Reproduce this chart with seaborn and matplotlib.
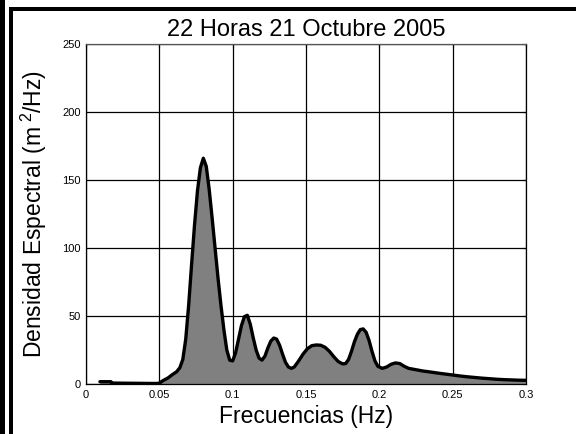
import matplotlib
matplotlib.use("Agg")
import matplotlib.pyplot as plt
from matplotlib.patches import Rectangle
import seaborn as sns
import pandas as pd

# Spectral density estimate (m^2/Hz) against frequency (Hz)
freq = [0.0095, 0.0170, 0.0175, 0.0250, 0.0350, 0.0450, 0.0480, 0.0500,
        0.0525, 0.0560, 0.0590, 0.0618, 0.0640, 0.0660, 0.0680, 0.0700,
        0.0720, 0.0740, 0.0760, 0.0780, 0.0800, 0.0820, 0.0840, 0.0860,
        0.0880, 0.0900, 0.0920, 0.0940, 0.0960, 0.0980, 0.1000, 0.1020,
        0.1040, 0.1060, 0.1080, 0.1100, 0.1120, 0.1140, 0.1160, 0.1180,
        0.1200, 0.1220, 0.1240, 0.1260, 0.1280, 0.1300, 0.1320, 0.1340,
        0.1360, 0.1380, 0.1400, 0.1420, 0.1450, 0.1480, 0.1510, 0.1540,
        0.1570, 0.1600, 0.1630, 0.1660, 0.1690, 0.1720, 0.1750, 0.1770,
        0.1790, 0.1810, 0.1830, 0.1850, 0.1870, 0.1890, 0.1910, 0.1930,
        0.1950, 0.1970, 0.1990, 0.2020, 0.2050, 0.2080, 0.2110, 0.2140,
        0.2170, 0.2200, 0.2250, 0.2300, 0.2350, 0.2400, 0.2450, 0.2500,
        0.2550, 0.2600, 0.2650, 0.2700, 0.2750, 0.2800, 0.2850, 0.2900,
        0.2950, 0.3000]
density = [1.7, 1.7, 0.7, 0.6, 0.5, 0.4, 0.4, 0.6,
           2.5, 4.5, 7.0, 9.0, 12.0, 18.0, 33.0, 58.0,
           88.0, 117.0, 142.0, 159.0, 166.0, 160.0, 143.0, 122.0,
           100.0, 78.0, 58.0, 40.0, 25.0, 17.5, 17.0, 23.0,
           33.0, 43.0, 49.5, 50.5, 44.0, 34.0, 25.0, 19.0,
           17.6, 20.5, 26.5, 31.5, 33.8, 33.0, 28.5, 22.0,
           16.0, 12.5, 11.5, 12.5, 17.0, 22.0, 26.0, 28.2,
           28.7, 28.5, 27.0, 24.0, 20.0, 16.5, 14.8, 15.0,
           18.0, 24.0, 31.0, 36.5, 40.0, 40.5, 38.0, 32.0,
           24.0, 17.0, 13.0, 11.5, 12.5, 14.5, 15.5, 15.0,
           13.0, 11.5, 10.5, 9.5, 8.8, 8.0, 7.3, 6.6,
           5.9, 5.3, 4.8, 4.3, 3.9, 3.5, 3.2, 3.0,
           2.8, 2.7]

xticks = [0, 0.05, 0.1, 0.15, 0.2, 0.25, 0.3]
xtick_labels = ["0", "0.05", "0.1", "0.15", "0.2", "0.25", "0.3"]
yticks = [0, 50, 100, 150, 200, 250]
ytick_labels = ["0", "50", "100", "150", "200", "250"]
title = "22 Horas 21 Octubre 2005"
xlabel = "Frecuencias (Hz)"
ylabel = r"Densidad Espectral (m$^{\ 2}$/Hz)"

sns.set_style("white")
plt.rcParams["font.family"] = ["Liberation Sans", "DejaVu Sans"]
plt.rcParams["mathtext.fontset"] = "custom"
plt.rcParams["mathtext.rm"] = "Liberation Sans"
plt.rcParams["mathtext.it"] = "Liberation Sans"
plt.rcParams["mathtext.default"] = "regular"
plt.rcParams["text.color"] = "black"
plt.rcParams["axes.labelcolor"] = "black"

W, H = 576, 434
fig = plt.figure(figsize=(W / 100, H / 100), dpi=100)
fig.patch.set_facecolor("white")
ax = fig.add_axes([86 / W, 1 - 384 / H, 440 / W, 340 / H])

df = pd.DataFrame({"f": freq, "S": density})
ax.fill_between(df["f"], 0, df["S"], color="#808080", lw=0, zorder=2)
sns.lineplot(data=df, x="f", y="S", color="black", lw=2.4, sort=False,
             solid_joinstyle="round", ax=ax, zorder=3)

ax.set_xlim(0, 0.3)
ax.set_ylim(0, 250)
ax.set_xticks(xticks)
ax.set_xticklabels(xtick_labels)
ax.set_yticks(yticks)
ax.set_yticklabels(ytick_labels)
ax.tick_params(axis="both", direction="in", length=3, width=0.8,
               labelsize=8, pad=4, colors="black", top=True, right=True)
ax.grid(True, color="black", lw=0.9)
ax.set_axisbelow(True)
for side in ["left", "bottom", "right", "top"]:
    ax.spines[side].set_visible(True)
    ax.spines[side].set_color("black")
    ax.spines[side].set_linewidth(0.9)
ax.spines["top"].set_color("#555555")

ax.set_title(title, fontsize=17, pad=6, color="black")
ax.set_xlabel(xlabel, fontsize=16.5, labelpad=4, color="black")
ax.set_ylabel(ylabel, fontsize=16.5, labelpad=9, color="black")

# page frame
fig.add_artist(Rectangle((0, 0), 4.5 / W, 1, transform=fig.transFigure,
                         color="black", lw=0))
fig.add_artist(Rectangle((8.5 / W, 0), 4 / W, 1 - 7 / H,
                         transform=fig.transFigure, color="black", lw=0))
fig.add_artist(Rectangle((8.5 / W, 1 - 11 / H), 1, 4 / H,
                         transform=fig.transFigure, color="black", lw=0))

fig.savefig("out.png", dpi=100)
